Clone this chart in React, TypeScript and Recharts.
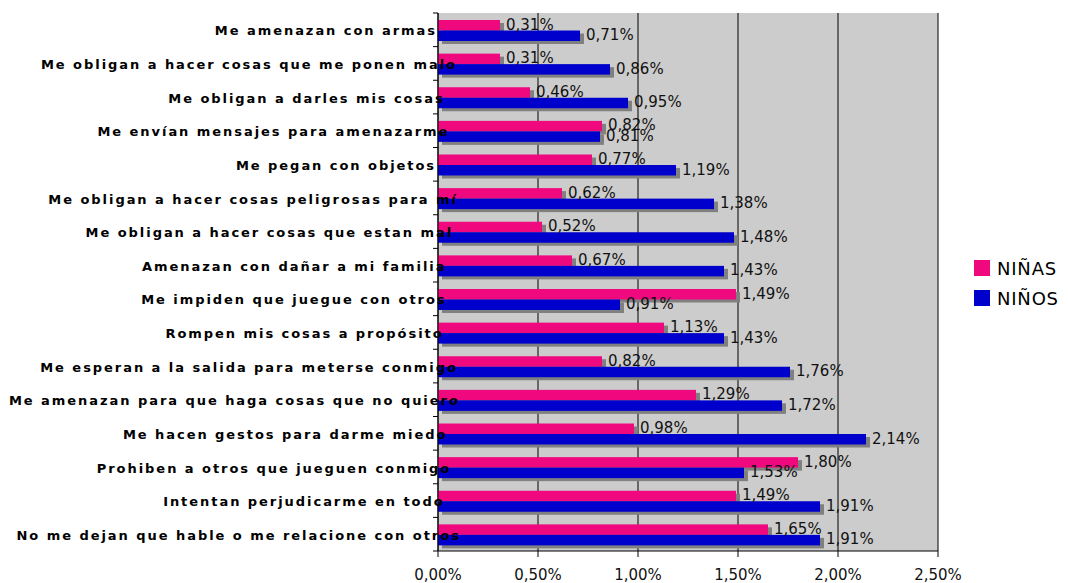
import React from 'react';
import { BarChart, Bar, XAxis, YAxis, CartesianGrid, LabelList } from 'recharts';

const categories = [
  'Me amenazan con armas',
  'Me obligan a hacer cosas que me ponen malo',
  'Me obligan a darles mis cosas',
  'Me envían mensajes para amenazarme',
  'Me pegan con objetos',
  'Me obligan a hacer cosas peligrosas para mí',
  'Me obligan a hacer cosas que estan mal',
  'Amenazan con dañar a mi familia',
  'Me impiden que juegue con otros',
  'Rompen mis cosas a propósito',
  'Me esperan a la salida para meterse conmigo',
  'Me amenazan para que haga cosas que no quiero',
  'Me hacen gestos para darme miedo',
  'Prohiben a otros que jueguen conmigo',
  'Intentan perjudicarme en todo',
  'No me dejan que hable o me relacione con otros',
];

const ninas = [0.31, 0.31, 0.46, 0.82, 0.77, 0.62, 0.52, 0.67, 1.49, 1.13, 0.82, 1.29, 0.98, 1.8, 1.49, 1.65];
const ninos = [0.71, 0.86, 0.95, 0.81, 1.19, 1.38, 1.48, 1.43, 0.91, 1.43, 1.76, 1.72, 2.14, 1.53, 1.91, 1.91];

const xTicks = [0, 0.5, 1, 1.5, 2, 2.5];

const PINK = '#F0087F';
const BLUE = '#0000CC';

const data = categories.map((name, i) => ({ name, ninas: ninas[i], ninos: ninos[i] }));

const W = 1068;
const H = 583;
const PLOT_LEFT = 438;
const PLOT_TOP = 13;
const PLOT_BOTTOM = 551;
const BAND = (PLOT_BOTTOM - PLOT_TOP) / categories.length;

const pct = (v: number) => `${v.toFixed(2).replace('.', ',')}%`;

const ShadowBar = (fill: string) => (props: any) => {
  const { x, y, width, height } = props;
  if (!width) return null;
  return (
    <g>
      <rect x={x + 4} y={y + 1 + 3} width={width} height={height} fill="#808080" />
      <rect x={x} y={y + 1} width={width} height={height} fill={fill} />
    </g>
  );
};

const CategoryTick = (props: any) => {
  const { y, payload, index } = props;
  const label: string = payload.value;
  const over = 0.95 * (label.length - 21) - 1;
  const top = y - BAND / 2;
  return (
    <g>
      <line x1={PLOT_LEFT - 5} x2={PLOT_LEFT} y1={top} y2={top} stroke="#000" />
      {index === categories.length - 1 && (
        <line x1={PLOT_LEFT - 5} x2={PLOT_LEFT} y1={top + BAND} y2={top + BAND} stroke="#000" />
      )}
      <text
        x={PLOT_LEFT + over}
        y={y + 1}
        dy="0.36em"
        textAnchor="end"
        fontFamily="DejaVu Sans"
        fontWeight="bold"
        fontSize={13}
        letterSpacing={1.95}
        fill="#000"
      >
        {label}
      </text>
    </g>
  );
};

const legendItems = [
  { label: 'NIÑAS', color: PINK },
  { label: 'NIÑOS', color: BLUE },
];

const valueStyle = { fill: '#111', fontSize: 15, fontFamily: 'DejaVu Sans' };

export default function App() {
  return (
    <div style={{ position: 'absolute', left: 0, top: 0, width: W, height: H, background: '#fff' }}>
      <BarChart
        width={W}
        height={H}
        data={data}
        layout="vertical"
        margin={{ top: PLOT_TOP, right: W - 938, left: 0, bottom: 0 }}
        barGap={0}
        barSize={10.5}
      >
        <CartesianGrid horizontal={false} vertical stroke="#000" fill="#CCCCCC" fillOpacity={1} />
        <XAxis
          type="number"
          domain={[0, 2.5]}
          ticks={xTicks}
          tickFormatter={pct}
          height={H - PLOT_BOTTOM}
          axisLine={{ stroke: '#000' }}
          tickLine={{ stroke: '#000' }}
          tickSize={6}
          tickMargin={12}
          tick={{ fill: '#111', fontSize: 15, fontFamily: 'DejaVu Sans' }}
          interval={0}
        />
        <YAxis
          type="category"
          dataKey="name"
          width={PLOT_LEFT}
          axisLine={{ stroke: '#000' }}
          tickLine={false}
          tick={<CategoryTick />}
          interval={0}
        />
        <Bar dataKey="ninas" name="NIÑAS" fill={PINK} shape={ShadowBar(PINK)} isAnimationActive={false}>
          <LabelList dataKey="ninas" position="right" offset={6} formatter={(v: any) => pct(Number(v))} style={valueStyle} />
        </Bar>
        <Bar dataKey="ninos" name="NIÑOS" fill={BLUE} shape={ShadowBar(BLUE)} isAnimationActive={false}>
          <LabelList dataKey="ninos" position="right" offset={6} formatter={(v: any) => pct(Number(v))} style={valueStyle} />
        </Bar>
      </BarChart>
      <div
        style={{
          position: 'absolute',
          left: 974,
          top: 253,
          fontFamily: 'DejaVu Sans',
          fontSize: 18,
          color: '#000',
        }}
      >
        {legendItems.map((it) => (
          <div key={it.label} style={{ display: 'flex', alignItems: 'center', height: 30 }}>
            <span style={{ width: 16, height: 16, background: it.color, display: 'inline-block', marginRight: 7 }} />
            <span style={{ letterSpacing: 0.8 }}>{it.label}</span>
          </div>
        ))}
      </div>
    </div>
  );
}
